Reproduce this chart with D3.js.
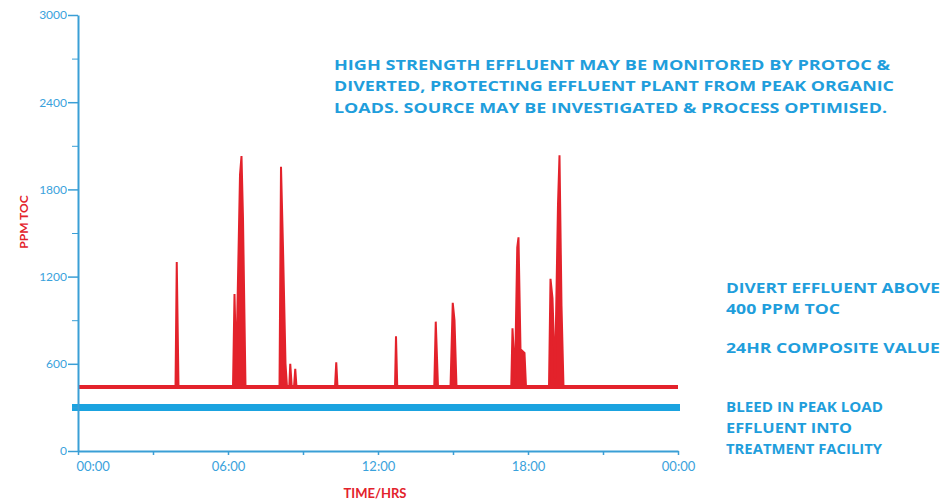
<!DOCTYPE html>
<html>
<head>
<meta charset="utf-8">
<script src="https://cdn.jsdelivr.net/npm/d3@7"></script>
<style>
  body { margin: 0; background: #fff; }
  svg { display: block; }
  .axis text { font-family: Lato, "Open Sans", sans-serif; fill: #3aa2dc; }
  .axis path, .axis line { stroke: #3a9fd6; }
  .note { font-family: "Open Sans", Lato, sans-serif; font-weight: 700; fill: #1f9edc; }
</style>
</head>
<body>
<div id="chart-container"></div>
<script>
// TOC readings over 24 hours: [hour, ppm]
const tocSeries = [
  [0, 440],
  [3.90, 440], [3.95, 1300], [4.02, 440],
  [6.20, 440], [6.26, 1080], [6.33, 560], [6.48, 1900], [6.54, 2030], [6.60, 1600], [6.70, 440],
  [8.06, 440], [8.12, 1955], [8.20, 1400], [8.30, 600], [8.36, 440],
  [8.45, 440], [8.49, 600], [8.55, 440],
  [8.64, 440], [8.69, 565], [8.74, 440],
  [10.28, 440], [10.33, 610], [10.38, 440],
  [12.68, 440], [12.72, 790], [12.77, 440],
  [14.25, 440], [14.31, 890], [14.40, 440],
  [14.90, 440], [14.99, 1020], [15.06, 900], [15.14, 440],
  [17.33, 440], [17.38, 845], [17.48, 500], [17.57, 1400], [17.62, 1470], [17.70, 700], [17.86, 675], [17.92, 440],
  [18.84, 440], [18.90, 1185], [18.98, 1050], [19.08, 500], [19.20, 1700], [19.26, 2035], [19.34, 1000], [19.42, 440],
  [24, 440]
];
const baseline = 440;
const compositeValue = 300;

const yMajorTicks = [0, 600, 1200, 1800, 2400, 3000];
const yMinorTicks = [300, 900, 1500, 2100, 2700];
const xTicks = [0, 3, 6, 9, 12, 15, 18, 21, 24];
const xLabels = {0: "00:00", 6: "06:00", 12: "12:00", 18: "18:00", 24: "00:00"};

const topNote = [
  "HIGH STRENGTH EFFLUENT MAY BE MONITORED BY PROTOC &",
  "DIVERTED, PROTECTING EFFLUENT PLANT FROM PEAK ORGANIC",
  "LOADS. SOURCE MAY BE INVESTIGATED & PROCESS OPTIMISED."
];
const sideNotes = [
  ["DIVERT EFFLUENT ABOVE", "400 PPM TOC"],
  ["24HR COMPOSITE VALUE"],
  ["BLEED IN PEAK LOAD", "EFFLUENT INTO", "TREATMENT FACILITY"]
];

// measured text widths (px) of the annotation lines
const topWidths = [556, 560, 553];
const sideWidths = [[214, 114], [214], [157, 126, 156]];

const width = 948, height = 501;
const svg = d3.select("#chart-container").append("svg")
  .attr("width", width).attr("height", height);

const x = d3.scaleLinear().domain([0, 24]).range([78, 678]);
const y = d3.scaleLinear().domain([0, 3000]).range([451, 15]);

// composite (blue) band
svg.append("line")
  .attr("x1", x(0) - 6).attr("x2", x(24) + 2)
  .attr("y1", y(compositeValue)).attr("y2", y(compositeValue))
  .attr("stroke", "#1aa3e0").attr("stroke-width", 7);

// red TOC trace
const area = d3.area().x(d => x(d[0])).y0(y(baseline)).y1(d => y(d[1]));
svg.append("path").datum(tocSeries)
  .attr("d", area).attr("fill", "#e3222b");
const line = d3.line().x(d => x(d[0])).y(d => y(d[1]));
svg.append("path").datum(tocSeries)
  .attr("d", line).attr("fill", "none")
  .attr("stroke", "#e3222b").attr("stroke-width", 2)
  .attr("stroke-linejoin", "miter");
svg.append("line")
  .attr("x1", x(0)).attr("x2", x(24))
  .attr("y1", y(baseline)).attr("y2", y(baseline))
  .attr("stroke", "#e3222b").attr("stroke-width", 4);

// axes
const yAxis = svg.append("g").attr("class", "axis")
  .attr("transform", `translate(${x(0)},0)`)
  .call(d3.axisLeft(y).tickValues(yMajorTicks).tickSize(10).tickSizeOuter(0).tickPadding(1)
    .tickFormat(d3.format("d")));
yAxis.selectAll("text").style("font-size", "12px");
yAxis.select(".domain").attr("stroke-width", 2);
yAxis.selectAll(".tick line").attr("stroke-width", 1.5);
svg.append("g").attr("class", "axis")
  .attr("transform", `translate(${x(0)},0)`)
  .call(d3.axisLeft(y).tickValues(yMinorTicks).tickSize(6).tickFormat(""))
  .call(g => g.select(".domain").remove());

const xAxis = svg.append("g").attr("class", "axis")
  .attr("transform", `translate(0,${y(0)})`)
  .call(d3.axisBottom(x).tickValues(xTicks).tickSize(4).tickSizeOuter(0).tickPadding(7)
    .tickFormat(d => xLabels[d] || ""));
xAxis.select(".domain").attr("stroke-width", 2);
xAxis.selectAll(".tick line").attr("stroke-width", 1.5);
xAxis.selectAll("text").style("font-size", "13px");
xAxis.selectAll(".tick text").filter(d => d === 0).attr("text-anchor", "start").attr("dx", -2);

// axis titles
svg.append("text")
  .attr("transform", `translate(24,222) rotate(-90)`)
  .attr("text-anchor", "middle").attr("dy", "0.35em")
  .style("font-family", "Lato, sans-serif").style("font-weight", 700)
  .style("font-size", "12px").attr("fill", "#e3222b")
  .text("PPM TOC");
svg.append("text")
  .attr("x", 375).attr("y", 493).attr("dy", "0.35em")
  .attr("text-anchor", "middle")
  .style("font-family", "Lato, sans-serif").style("font-weight", 700)
  .style("font-size", "13px").attr("fill", "#e3222b")
  .text("TIME/HRS");

// annotations
svg.append("g").selectAll("text").data(topNote).enter().append("text")
  .attr("class", "note")
  .attr("x", 334).attr("y", (d, i) => 65 + i * 21.5).attr("dy", "0.35em")
  .attr("textLength", (d, i) => topWidths[i])
  .attr("lengthAdjust", "spacingAndGlyphs")
  .style("font-size", "14px")
  .text(d => d);

const sideY = [288, 348, 407];
sideNotes.forEach((lines, k) => {
  svg.append("g").selectAll("text").data(lines).enter().append("text")
    .attr("class", "note")
    .attr("x", 726).attr("y", (d, i) => sideY[k] + i * 21).attr("dy", "0.35em")
    .attr("textLength", (d, i) => sideWidths[k][i])
    .attr("lengthAdjust", "spacingAndGlyphs")
    .style("font-size", "14px")
    .text(d => d);
});
</script>
</body>
</html>
